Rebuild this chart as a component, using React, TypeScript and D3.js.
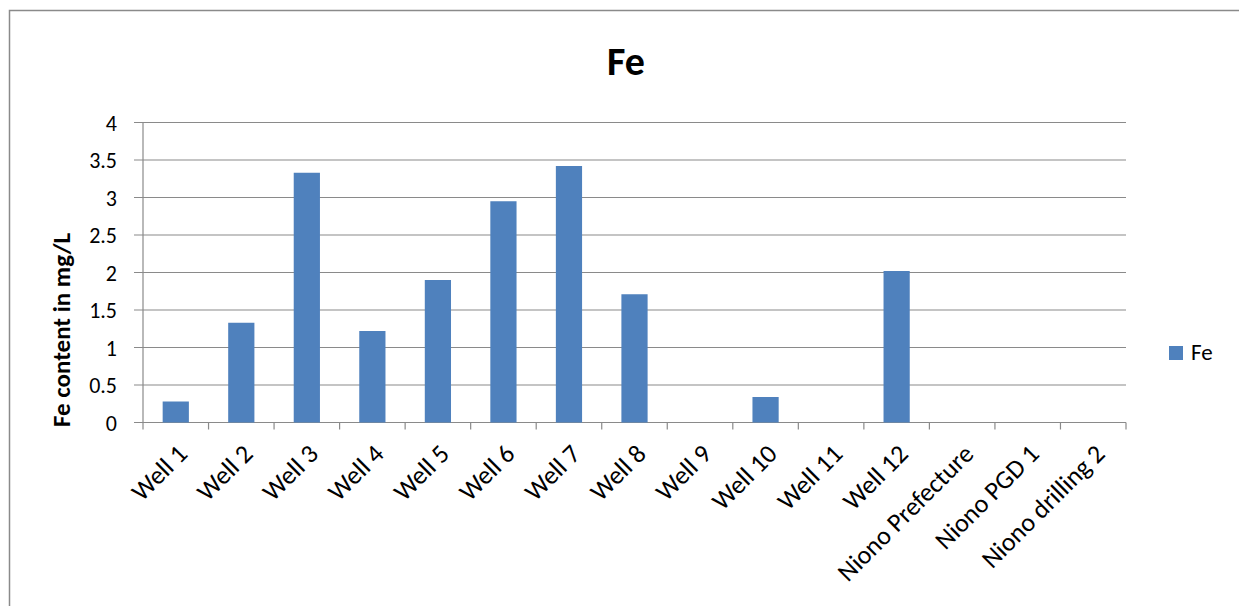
import { useRef, useEffect } from "react";
import * as d3 from "d3";

const categories: string[] = [
  "Well 1",
  "Well 2",
  "Well 3",
  "Well 4",
  "Well 5",
  "Well 6",
  "Well 7",
  "Well 8",
  "Well 9",
  "Well 10",
  "Well 11",
  "Well 12",
  "Niono Prefecture",
  "Niono PGD 1",
  "Niono drilling 2",
];
const feValues: number[] = [
  0.28, 1.33, 3.33, 1.22, 1.9, 2.95, 3.42, 1.71, 0, 0.34, 0, 2.02, 0, 0, 0,
];
const yTicks: number[] = [0, 0.5, 1, 1.5, 2, 2.5, 3, 3.5, 4];

const FONT = "Carlito, Lato, 'Noto Sans', sans-serif";
const GRID = "#8a8a8a";
const BAR = "#4F81BD";

const App: React.FC = () => {
  const svgRef = useRef<SVGSVGElement | null>(null);

  useEffect(() => {
    if (!svgRef.current) return;
    const svg = d3.select(svgRef.current);
    svg.selectAll("*").remove();

    const W = 1239;
    const H = 606;
    const plot = { left: 143, right: 1126, top: 122.5, bottom: 422.5 };

    // chart frame (runs off right/bottom like the source screenshot)
    svg
      .append("rect")
      .attr("x", 9.5)
      .attr("y", 10.5)
      .attr("width", W + 20)
      .attr("height", H + 20)
      .attr("fill", "#fff")
      .attr("stroke", GRID)
      .attr("stroke-width", 1.5);

    const x = d3
      .scaleBand<string>()
      .domain(categories)
      .range([plot.left, plot.right])
      .paddingInner(0.6)
      .paddingOuter(0.3);

    const xEdges = d3
      .scaleLinear()
      .domain([0, categories.length])
      .range([plot.left, plot.right]);

    const y = d3.scaleLinear().domain([0, 4]).range([plot.bottom, plot.top]);

    // gridlines
    svg
      .append("g")
      .selectAll("line")
      .data(yTicks)
      .join("line")
      .attr("x1", plot.left - 9)
      .attr("x2", plot.right)
      .attr("y1", (d) => y(d))
      .attr("y2", (d) => y(d))
      .attr("stroke", GRID)
      .attr("stroke-width", 1.2);

    // y axis line
    svg
      .append("line")
      .attr("x1", plot.left)
      .attr("x2", plot.left)
      .attr("y1", plot.top)
      .attr("y2", plot.bottom + 7)
      .attr("stroke", GRID)
      .attr("stroke-width", 1.2);

    // x tick marks
    svg
      .append("g")
      .selectAll("line")
      .data(d3.range(1, categories.length + 1))
      .join("line")
      .attr("x1", (d) => xEdges(d))
      .attr("x2", (d) => xEdges(d))
      .attr("y1", plot.bottom)
      .attr("y2", plot.bottom + 7)
      .attr("stroke", GRID)
      .attr("stroke-width", 1.2);

    // y tick labels
    svg
      .append("g")
      .selectAll("text")
      .data(yTicks)
      .join("text")
      .attr("x", 117)
      .attr("y", (d) => y(d) + 8)
      .attr("text-anchor", "end")
      .attr("font-family", FONT)
      .attr("font-size", 22)
      .attr("fill", "#000")
      .text((d) => String(d));

    // bars
    svg
      .append("g")
      .selectAll("rect")
      .data(categories.map((c, i) => ({ c, v: feValues[i] })))
      .join("rect")
      .attr("x", (d) => x(d.c)!)
      .attr("width", x.bandwidth())
      .attr("y", (d) => y(d.v))
      .attr("height", (d) => plot.bottom - y(d.v))
      .attr("fill", BAR);

    // x labels, rotated
    svg
      .append("g")
      .selectAll("text")
      .data(categories)
      .join("text")
      .attr(
        "transform",
        (d) => `translate(${x(d)! + x.bandwidth() / 2 + 13},${plot.bottom + 33}) rotate(-45)`
      )
      .attr("text-anchor", "end")
      .attr("font-family", FONT)
      .attr("font-size", 26)
      .attr("fill", "#000")
      .text((d) => d);

    // title
    svg
      .append("text")
      .attr("x", 626)
      .attr("y", 75)
      .attr("text-anchor", "middle")
      .attr("font-family", FONT)
      .attr("font-weight", "bold")
      .attr("font-size", 40)
      .attr("fill", "#000")
      .text("Fe");

    // y axis title
    svg
      .append("text")
      .attr("transform", `translate(70,330) rotate(-90)`)
      .attr("text-anchor", "middle")
      .attr("font-family", FONT)
      .attr("font-weight", "bold")
      .attr("font-size", 25)
      .attr("fill", "#000")
      .text("Fe content in mg/L");

    // legend
    const legend = svg.append("g").attr("transform", "translate(1169,346)");
    legend
      .append("rect")
      .attr("width", 14)
      .attr("height", 14)
      .attr("fill", BAR);
    legend
      .append("text")
      .attr("x", 22)
      .attr("y", 14)
      .attr("font-family", FONT)
      .attr("font-size", 23)
      .attr("fill", "#000")
      .text("Fe");
  }, []);

  return (
    <div style={{ position: "fixed", left: 0, top: 0, background: "#fff" }}>
      <svg ref={svgRef} width={1239} height={606} style={{ display: "block" }}></svg>
    </div>
  );
};

export default App;
